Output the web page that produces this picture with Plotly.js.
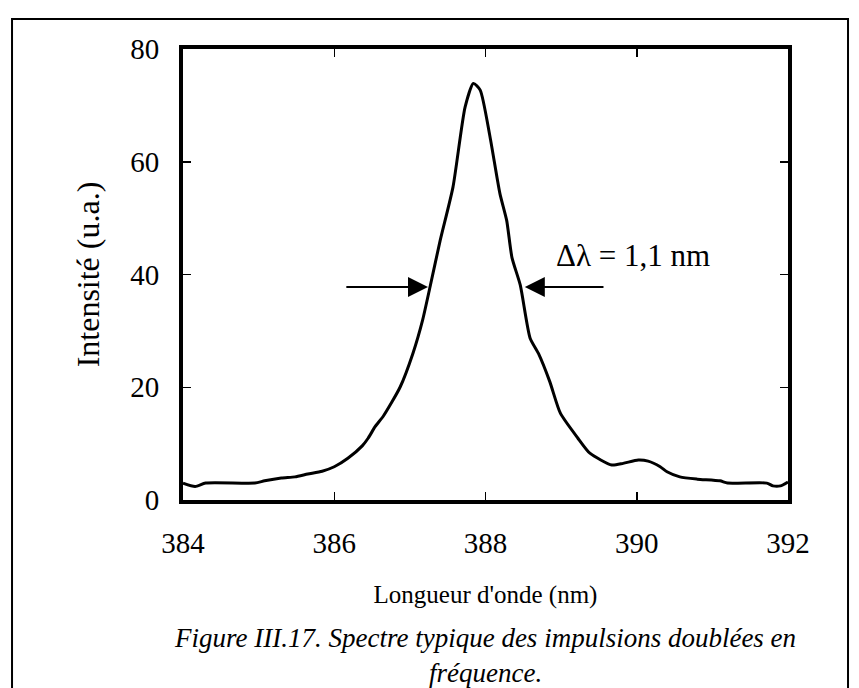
<!DOCTYPE html>
<html>
<head>
<meta charset="utf-8">
<script src="https://cdn.plot.ly/plotly-3.0.1.min.js"></script>
<style>html,body{margin:0;padding:0;background:#fff;}#chart{width:859px;height:688px;}</style>
</head>
<body>
<div id="chart"></div>
<script>
// Wavelength (nm)
const wavelength = [384.0, 384.16, 384.3, 384.95, 385.08, 385.3, 385.48, 385.65, 385.84, 386.0, 386.18, 386.37, 386.45, 386.54, 386.65, 386.87, 387.04, 387.17, 387.27, 387.4, 387.57, 387.73, 387.84, 387.93, 388.06, 388.19, 388.28, 388.35, 388.46, 388.59, 388.7, 388.85, 388.99, 389.22, 389.38, 389.67, 389.82, 390.02, 390.15, 390.31, 390.4, 390.57, 390.8, 391.1, 391.2, 391.72, 391.8, 391.9, 392.0];
// Intensity (u.a.)
const intensity = [3.0, 2.4, 3.0, 3.0, 3.4, 3.9, 4.1, 4.6, 5.1, 5.9, 7.4, 9.6, 11.0, 13.0, 14.9, 20.0, 26.0, 32.0, 38.0, 46.0, 55.5, 69.7, 73.9, 72.7, 64.4, 54.4, 49.6, 43.0, 38.1, 28.7, 26.0, 21.0, 15.4, 11.0, 8.3, 6.2, 6.5, 7.1, 6.9, 5.9, 5.0, 4.1, 3.7, 3.4, 3.0, 3.0, 2.5, 2.5, 3.2];
const xTicks = [384, 386, 388, 390, 392];
const yTicks = [0, 20, 40, 60, 80];
const fwhmLevel = 37.8;
const fwhmLeft = 387.24, fwhmRight = 388.52;
const fwhmLabel = "Δλ = 1,1 nm";
const xTitle = "Longueur d'onde (nm)";
const yTitle = "Intensité (u.a.)";
const captionLines = ["Figure III.17. Spectre typique des impulsions doublées en", "fréquence."];

const serif = "Liberation Serif, Times New Roman, serif";

const trace = {
  x: wavelength, y: intensity, type: 'scatter', mode: 'lines',
  line: {color: '#000', width: 3, shape: 'spline', smoothing: 0.6},
  hoverinfo: 'skip', showlegend: false
};

// pixel -> paper helper (plot area: y 49..500)
const py = p => (500 - p) / 451;

const layout = {
  width: 859, height: 688,
  margin: {l: 183, r: 71, t: 49, b: 188},
  paper_bgcolor: '#fff', plot_bgcolor: '#fff',
  font: {family: serif, color: '#000', size: 26},
  xaxis: {
    range: [384, 392], tickvals: xTicks, ticktext: xTicks.map(String),
    showline: true, linewidth: 4, linecolor: '#000', mirror: 'ticks',
    ticks: 'inside', ticklen: 8, tickwidth: 1.5, tickcolor: '#000',
    showgrid: false, zeroline: false, ticklabelstandoff: 14,
    tickfont: {family: serif, size: 29},
    title: {text: xTitle, font: {family: serif, size: 25}, standoff: 29}
  },
  yaxis: {
    range: [0, 80], tickvals: yTicks, ticktext: yTicks.map(String),
    showline: true, linewidth: 4, linecolor: '#000', mirror: 'ticks',
    ticks: 'inside', ticklen: 8, tickwidth: 1.5, tickcolor: '#000',
    showgrid: false, zeroline: false, ticklabelstandoff: 14,
    tickfont: {family: serif, size: 29},
    title: {text: yTitle, font: {family: serif, size: 32}, standoff: 22}
  },
  shapes: [{
    type: 'rect', xref: 'paper', yref: 'paper',
    x0: -0.2826, x1: 1.0992, y0: -0.45, y1: 1.0665,
    line: {color: '#000', width: 2}, fillcolor: 'rgba(0,0,0,0)', layer: 'below'
  }],
  annotations: [
    {x: fwhmLeft, y: fwhmLevel, ax: 386.14, ay: fwhmLevel, xref: 'x', yref: 'y', axref: 'x', ayref: 'y',
     text: '', showarrow: true, arrowhead: 2, arrowsize: 2, arrowwidth: 2, arrowcolor: '#000'},
    {x: fwhmRight, y: fwhmLevel, ax: 389.58, ay: fwhmLevel, xref: 'x', yref: 'y', axref: 'x', ayref: 'y',
     text: '', showarrow: true, arrowhead: 2, arrowsize: 2, arrowwidth: 2, arrowcolor: '#000'},
    {x: 388.9, y: 43.4, xref: 'x', yref: 'y', xanchor: 'left', yanchor: 'middle',
     text: fwhmLabel, showarrow: false, font: {family: serif, size: 31}},
    {x: 0.499, y: py(621), xref: 'paper', yref: 'paper', yanchor: 'top', xanchor: 'center',
     text: captionLines.join('<br>'), showarrow: false, align: 'center',
     font: {family: serif, size: 27, style: 'italic'}}
  ]
};

Plotly.newPlot('chart', [trace], layout, {displayModeBar: false, staticPlot: true});
</script>
</body>
</html>
